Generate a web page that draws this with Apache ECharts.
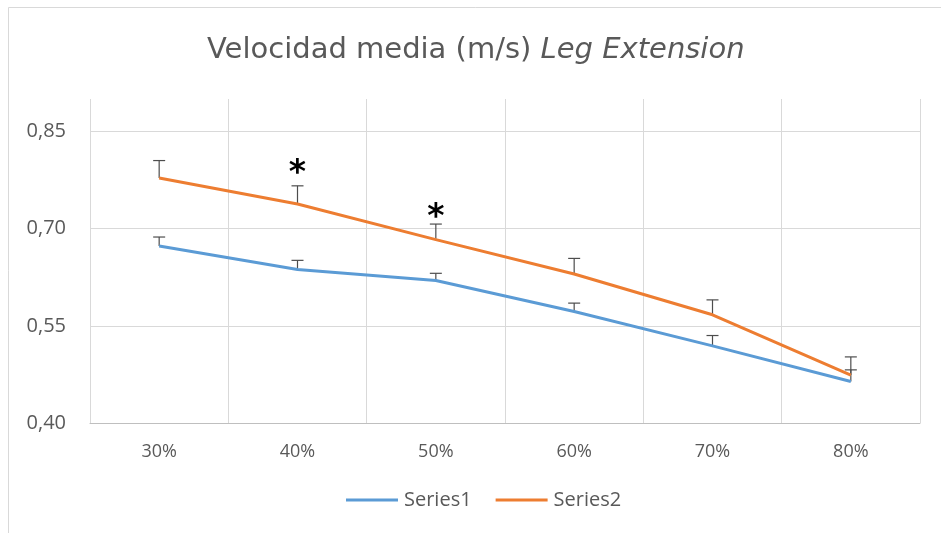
<!DOCTYPE html>
<html>
<head>
<meta charset="utf-8">
<script src="https://cdn.jsdelivr.net/npm/echarts@6/dist/echarts.min.js"></script>
<style>
  html, body { margin: 0; padding: 0; background: #ffffff; }
  #chart { width: 941px; height: 533px; }
</style>
</head>
<body>
<div id="chart"></div>
<script>
// Intensity levels (% 1RM)
const categories = ['30%', '40%', '50%', '60%', '70%', '80%'];

// Mean velocity (m/s) per series
const series1 = [0.673, 0.637, 0.620, 0.572, 0.519, 0.464];
const series2 = [0.778, 0.738, 0.683, 0.630, 0.567, 0.474];

// Upper error bar length (m/s)
const series1Err = [0.014, 0.014, 0.011, 0.013, 0.016, 0.018];
const series2Err = [0.027, 0.028, 0.024, 0.024, 0.023, 0.028];

// Labelled y ticks
const yTicks = [0.40, 0.55, 0.70, 0.85];

// Significance markers: category and height
const sigCats = ['40%', '50%'];
const sigHeights = [0.783, 0.716];

const TEXT = '#595959';
const GRID = '#d9d9d9';
const BLUE = '#5B9BD5';
const ORANGE = '#ED7D31';
const FONT = '"Open Sans", "Noto Sans", sans-serif';
const TITLE_FONT = '"DejaVu Sans", sans-serif';

function errData(means, errs) {
  return means.map((m, i) => [i, m, errs[i]]);
}

function renderErr(params, api) {
  const i = api.value(0);
  const m = api.value(1);
  const e = api.value(2);
  const p0 = api.coord([i, m]);
  const p1 = api.coord([i, m + e]);
  const half = 6;
  const style = { stroke: '#4d4d4d', lineWidth: 1.2 };
  return {
    type: 'group',
    children: [
      { type: 'line', shape: { x1: p0[0], y1: p0[1], x2: p1[0], y2: p1[1] }, style },
      { type: 'line', shape: { x1: p1[0] - half, y1: p1[1], x2: p1[0] + half, y2: p1[1] }, style }
    ]
  };
}

function renderSig(params, api) {
  const p = api.coord([api.value(0), api.value(1)]);
  return {
    type: 'text',
    x: p[0],
    y: p[1],
    style: {
      text: '*',
      fill: '#000000',
      font: 'bold 33px "DejaVu Sans", sans-serif',
      align: 'center',
      verticalAlign: 'middle'
    }
  };
}

const chart = echarts.init(document.getElementById('chart'));
chart.setOption({
  animation: false,
  backgroundColor: '#ffffff',
  title: {
    text: '{n|Velocidad media (m/s) }{i|Leg Extension}',
    left: 202,
    top: 31,
    textStyle: {
      fontWeight: 'normal',
      rich: {
        n: { fontSize: 29, color: TEXT, fontFamily: TITLE_FONT, fontWeight: 'normal' },
        i: { fontSize: 29, color: TEXT, fontFamily: TITLE_FONT, fontWeight: 'normal', fontStyle: 'italic' }
      }
    }
  },
  graphic: [{
    type: 'rect',
    silent: true,
    shape: { x: 8.5, y: 7.5, width: 1000, height: 600 },
    style: { fill: 'none', stroke: GRID, lineWidth: 1 }
  }],
  legend: {
    top: 485,
    left: 341,
    icon: 'rect',
    itemWidth: 52,
    itemHeight: 3,
    itemGap: 24,
    textStyle: { color: TEXT, fontSize: 20, fontFamily: FONT, padding: [0, 0, 0, 1] },
    data: ['Series1', 'Series2']
  },
  grid: { left: 90, right: 21, top: 99, bottom: 110 },
  xAxis: {
    type: 'category',
    data: categories,
    boundaryGap: true,
    axisLine: { lineStyle: { color: '#bfbfbf', width: 1 } },
    axisTick: { show: false },
    axisLabel: { color: TEXT, fontSize: 18, fontFamily: FONT, margin: 20 },
    splitLine: { show: true, lineStyle: { color: GRID, width: 1 } }
  },
  yAxis: {
    type: 'value',
    min: 0.40,
    max: 0.90,
    interval: 0.05,
    axisLine: { show: false },
    axisTick: { show: false },
    axisLabel: {
      color: TEXT,
      fontSize: 20,
      fontFamily: FONT,
      margin: 24,
      formatter: function (v) {
        const hit = yTicks.some(t => Math.abs(t - v) < 1e-6);
        return hit ? v.toFixed(2).replace('.', ',') : '';
      }
    },
    splitLine: {
      show: true,
      lineStyle: { color: [GRID, 'rgba(0,0,0,0)', 'rgba(0,0,0,0)'], width: 1 }
    }
  },
  series: [
    {
      name: 'Series1-err',
      type: 'custom',
      renderItem: renderErr,
      data: errData(series1, series1Err),
      z: 1
    },
    {
      name: 'Series2-err',
      type: 'custom',
      renderItem: renderErr,
      data: errData(series2, series2Err),
      z: 1
    },
    {
      name: 'Series1',
      type: 'line',
      data: series1,
      symbol: 'none',
      itemStyle: { color: BLUE },
      lineStyle: { color: BLUE, width: 3 },
      z: 3
    },
    {
      name: 'Series2',
      type: 'line',
      data: series2,
      symbol: 'none',
      itemStyle: { color: ORANGE },
      lineStyle: { color: ORANGE, width: 3 },
      z: 4
    },
    {
      name: 'sig',
      type: 'custom',
      renderItem: renderSig,
      data: sigCats.map((c, i) => [categories.indexOf(c), sigHeights[i]]),
      z: 5
    }
  ]
});
</script>
</body>
</html>
